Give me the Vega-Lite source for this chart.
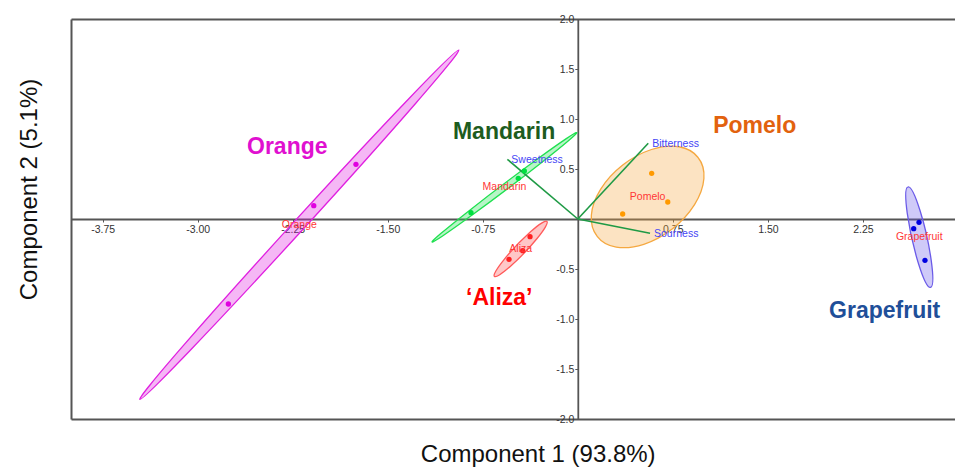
{
  "$schema": "https://vega.github.io/schema/vega-lite/v6.json",
  "width": 884,
  "height": 400,
  "autosize": {"type": "none"},
  "padding": {"left": 71, "top": 19, "right": 0, "bottom": 48},
  "background": "white",
  "config": {
    "view": {"stroke": null},
    "axis": {"grid": false},
    "text": {"font": "Liberation Sans"}
  },
  "datasets": {
    "centroids": [
      {"group": "Orange", "x": -2.198, "y": -0.057},
      {"group": "Mandarin", "x": -0.579, "y": 0.317},
      {"group": "Aliza", "x": -0.451, "y": -0.299},
      {"group": "Pomelo", "x": 0.551, "y": 0.221},
      {"group": "Grapefruit", "x": 2.695, "y": -0.181}
    ],
    "points": [
      {"group": "Orange", "x": -1.751, "y": 0.547},
      {"group": "Orange", "x": -2.084, "y": 0.133},
      {"group": "Orange", "x": -2.758, "y": -0.85},
      {"group": "Mandarin", "x": -0.843, "y": 0.063},
      {"group": "Mandarin", "x": -0.47, "y": 0.407},
      {"group": "Mandarin", "x": -0.422, "y": 0.48},
      {"group": "Aliza", "x": -0.377, "y": -0.177},
      {"group": "Aliza", "x": -0.435, "y": -0.317},
      {"group": "Aliza", "x": -0.543, "y": -0.403},
      {"group": "Pomelo", "x": 0.583, "y": 0.457},
      {"group": "Pomelo", "x": 0.71, "y": 0.17},
      {"group": "Pomelo", "x": 0.354, "y": 0.05},
      {"group": "Grapefruit", "x": 2.693, "y": -0.033},
      {"group": "Grapefruit", "x": 2.651, "y": -0.097},
      {"group": "Grapefruit", "x": 2.74, "y": -0.413}
    ],
    "loadings": [
      {"var": "Sweetness", "ox": 0, "oy": 0, "x": -0.556, "y": 0.597},
      {"var": "Bitterness", "ox": 0, "oy": 0, "x": 0.556, "y": 0.757},
      {"var": "Sourness", "ox": 0, "oy": 0, "x": 0.57, "y": -0.143}
    ],
    "names": [
      {"label": "Orange", "group": "Orange", "x": -2.293, "y": 0.723},
      {"label": "Mandarin", "group": "Mandarin", "x": -0.582, "y": 0.867},
      {"label": "‘Aliza’", "group": "Aliza", "x": -0.62, "y": -0.793},
      {"label": "Pomelo", "group": "Pomelo", "x": 1.396, "y": 0.93},
      {"label": "Grapefruit", "group": "Grapefruit", "x": 2.422, "y": -0.917}
    ]
  },
  "layer": [
    {
      "data": {"name": "centroids"},
      "mark": {"type": "point", "filled": true, "size": 4, "opacity": 1, "fillOpacity": 0.32, "strokeOpacity": 1, "strokeWidth": 1.3},
      "encoding": {
        "x": {"field": "x", "type": "quantitative", "scale": {"domain": [-4, 2.977], "nice": false, "zero": false},
          "axis": {"orient": "bottom", "ticks": false, "labels": false, "values": [], "domainColor": "#555555", "domainWidth": 2,
            "title": "Component 1 (93.8%)", "titleFont": "Liberation Sans", "titleFontSize": 24, "titleFontWeight": "normal", "titleColor": "#111111",
            "titleX": 466.7, "titleY": 42.5, "titleBaseline": "alphabetic", "titleAlign": "center"}},
        "y": {"field": "y", "type": "quantitative", "scale": {"domain": [-2, 2], "nice": false, "zero": false},
          "axis": {"orient": "left", "ticks": false, "labels": false, "values": [], "domainColor": "#555555", "domainWidth": 2,
            "title": "Component 2 (5.1%)", "titleFont": "Liberation Sans", "titleFontSize": 24, "titleFontWeight": "normal", "titleColor": "#111111",
            "titleX": -35, "titleY": 170, "titleBaseline": "alphabetic", "titleAlign": "center", "titleAngle": 270}},
        "shape": {"field": "group", "type": "nominal", "legend": null,
          "scale": {"domain": ["Orange", "Mandarin", "Aliza", "Pomelo", "Grapefruit"],
            "range": [
              "M 159.47 -174.66 A 236.5 5.8 -47.6 1 1 -159.47 174.66 A 236.5 5.8 -47.6 1 1 159.47 -174.66 Z",
              "M 72.34 -54.71 A 90.7 3 -37.1 1 1 -72.34 54.71 A 90.7 3 -37.1 1 1 72.34 -54.71 Z",
              "M 26.25 -27.47 A 38 5.3 -46.3 1 1 -26.25 27.47 A 38 5.3 -46.3 1 1 26.25 -27.47 Z",
              "M 50.43 -39.4 A 64 40 -38 1 1 -50.43 39.4 A 64 40 -38 1 1 50.43 -39.4 Z",
              "M 11.23 50.26 A 51.5 7.5 77.4 1 1 -11.23 -50.26 A 51.5 7.5 77.4 1 1 11.23 50.26 Z"
            ]}},
        "fill": {"field": "group", "type": "nominal", "legend": null,
          "scale": {"domain": ["Orange", "Mandarin", "Aliza", "Pomelo", "Grapefruit"],
            "range": ["#e020e0", "#20e050", "#ff5050", "#f5a840", "#6a5ae8"]}},
        "stroke": {"field": "group", "type": "nominal", "legend": null,
          "scale": {"domain": ["Orange", "Mandarin", "Aliza", "Pomelo", "Grapefruit"],
            "range": ["#e020e0", "#20e050", "#ff5a5a", "#f5a840", "#6a5ae8"]}}
      }
    },
    {
      "data": {"name": "loadings"},
      "mark": {"type": "rule", "color": "#1f9a45", "strokeWidth": 1.6},
      "encoding": {
        "x": {"field": "ox", "type": "quantitative", "scale": {"domain": [-4, 2.977], "nice": false, "zero": false},
          "axis": {"orient": "bottom", "offset": -200, "values": [-3.75, -3, -2.25, -1.5, -0.75, 0.75, 1.5, 2.25], "format": ".2f", "title": null,
            "labelExpr": "replace(datum.label, '\u2212', '-')",
            "domainColor": "#555555", "domainWidth": 1.8, "tickColor": "#555555", "tickSize": 3, "tickWidth": 1,
            "labelFont": "Liberation Sans", "labelFontSize": 10.5, "labelColor": "#333333", "labelPadding": 2, "labelFlush": false, "labelOverlap": false}},
        "y": {"field": "oy", "type": "quantitative", "scale": {"domain": [-2, 2], "nice": false, "zero": false},
          "axis": {"orient": "left", "offset": -506.8, "values": [-2, -1.5, -1, -0.5, 0.5, 1, 1.5, 2], "format": ".1f", "title": null,
            "labelExpr": "replace(datum.label, '\u2212', '-')",
            "domainColor": "#555555", "domainWidth": 1.8, "tickColor": "#555555", "tickSize": 3, "tickWidth": 1,
            "labelFont": "Liberation Sans", "labelFontSize": 10.5, "labelColor": "#333333", "labelPadding": 1, "labelFlush": false, "labelOverlap": false}},
        "x2": {"field": "x"},
        "y2": {"field": "y"}
      }
    },
    {
      "data": {"name": "points"},
      "mark": {"type": "circle", "size": 28, "opacity": 1},
      "encoding": {
        "x": {"field": "x", "type": "quantitative", "scale": {"domain": [-4, 2.977], "nice": false, "zero": false},
          "axis": {"orient": "top", "ticks": false, "labels": false, "values": [], "domainColor": "#555555", "domainWidth": 2, "title": null}},
        "y": {"field": "y", "type": "quantitative", "scale": {"domain": [-2, 2], "nice": false, "zero": false}, "axis": null},
        "color": {"field": "group", "type": "nominal", "legend": null,
          "scale": {"domain": ["Orange", "Mandarin", "Aliza", "Pomelo", "Grapefruit"],
            "range": ["#e000e0", "#00e040", "#ff2020", "#ff9a00", "#0000e0"]}}
      }
    },
    {
      "data": {"name": "centroids"},
      "mark": {"type": "text", "fontSize": 10.5, "color": "#ff3636", "align": "center", "baseline": "middle", "font": "Liberation Sans"},
      "encoding": {
        "x": {"field": "x", "type": "quantitative", "scale": {"domain": [-4, 2.977], "nice": false, "zero": false}, "axis": null},
        "y": {"field": "y", "type": "quantitative", "scale": {"domain": [-2, 2], "nice": false, "zero": false}, "axis": null},
        "text": {"field": "group"}
      }
    },
    {
      "data": {"name": "loadings"},
      "mark": {"type": "text", "fontSize": 10.5, "color": "#4545f5", "align": "left", "baseline": "middle", "dx": 4, "dy": 1, "font": "Liberation Sans"},
      "encoding": {
        "x": {"field": "x", "type": "quantitative", "scale": {"domain": [-4, 2.977], "nice": false, "zero": false}, "axis": null},
        "y": {"field": "y", "type": "quantitative", "scale": {"domain": [-2, 2], "nice": false, "zero": false}, "axis": null},
        "text": {"field": "var"}
      }
    },
    {
      "data": {"name": "names"},
      "mark": {"type": "text", "fontSize": 23, "fontWeight": "bold", "align": "center", "baseline": "middle", "font": "Liberation Sans"},
      "encoding": {
        "x": {"field": "x", "type": "quantitative", "scale": {"domain": [-4, 2.977], "nice": false, "zero": false}, "axis": null},
        "y": {"field": "y", "type": "quantitative", "scale": {"domain": [-2, 2], "nice": false, "zero": false}, "axis": null},
        "text": {"field": "label"},
        "color": {"field": "group", "type": "nominal", "legend": null,
          "scale": {"domain": ["Orange", "Mandarin", "Aliza", "Pomelo", "Grapefruit"],
            "range": ["#e010d0", "#1e5c1e", "#ff0000", "#e2620e", "#1f4f99"]}}
      }
    }
  ],
  "resolve": {"axis": {"x": "independent", "y": "independent"}, "scale": {"color": "independent"}}
}
